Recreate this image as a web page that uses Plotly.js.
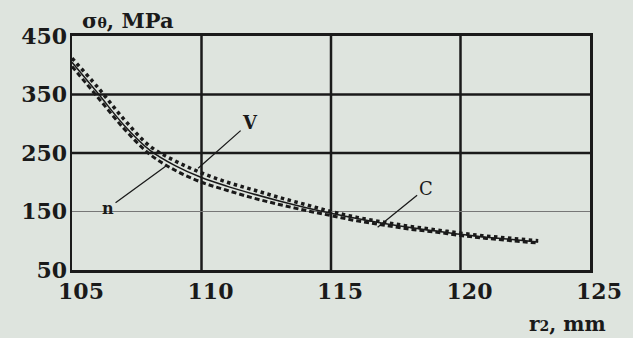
<!DOCTYPE html>
<html>
<head>
<meta charset="utf-8">
<script src="https://cdn.plot.ly/plotly-3.0.1.min.js"></script>
<style>html,body{margin:0;padding:0;background:#dee4de;}</style>
</head>
<body>
<div id="chart" style="width:633px;height:338px;"></div>
<script>
// Data
var r2 = [105,106,107,108,109,110,111,112,113,114,115,116,117,118,119,120,121,122,123];
var sigmaN = [405,352,298,255,228,208,193,180,168,157,147,138,130,123,117,111,106,102,98];
var sigmaV = [412,362,308,262,236,216,200,187,174,162,150,140,132,125,119,113,108,104,100];
var sigmaC = [398,345,292,248,220,200,186,173,162,152,143,134,127,120,115,109,104,100,96];

var xTicks = [105,110,115,120,125];
var yTicks = [50,150,250,350,450];
var xGrid = [110,115,120];
var yGridThick = [250,350];
var yGridThin = [150];

var serif = "DejaVu Serif, Liberation Serif, serif";

var traces = [
  {x: r2, y: sigmaV, mode: 'lines', name: 'V', line: {color: '#1a1a1a', width: 3.5, dash: 'dot', shape: 'spline'}},
  {x: r2, y: sigmaC, mode: 'lines', name: 'C', line: {color: '#1a1a1a', width: 3, dash: '5px,3px', shape: 'spline'}},
  {x: r2, y: sigmaN, mode: 'lines', name: 'n', line: {color: '#1a1a1a', width: 1.5, shape: 'spline'}}
];

var shapes = [];
xGrid.forEach(function(v){
  shapes.push({type:'line', xref:'x', yref:'paper', x0:v, x1:v, y0:0, y1:1, line:{color:'#1a1a1a', width:2.5}, layer:'below'});
});
yGridThick.forEach(function(v){
  shapes.push({type:'line', xref:'paper', yref:'y', x0:0, x1:1, y0:v, y1:v, line:{color:'#1a1a1a', width:2.5}, layer:'below'});
});
yGridThin.forEach(function(v){
  shapes.push({type:'line', xref:'paper', yref:'y', x0:0, x1:1, y0:v, y1:v, line:{color:'#777777', width:1}, layer:'below'});
});

var labelFont = {family: serif, size: 18, color: '#1a1a1a', weight: 'bold'};
var annotations = [
  {x: 109.87, y: 224, xref:'x', yref:'y', text:'V', showarrow:true, arrowhead:0, arrowwidth:1.3, arrowcolor:'#1a1a1a', ax:52, ay:-46, font: labelFont},
  {x: 108.67, y: 229, xref:'x', yref:'y', text:'n', showarrow:true, arrowhead:0, arrowwidth:1.3, arrowcolor:'#1a1a1a', ax:-59, ay:43, font: {family: serif, size: 16, color: '#1a1a1a', weight: 'bold'}},
  {x: 116.8, y: 123, xref:'x', yref:'y', text:'C', showarrow:true, arrowhead:0, arrowwidth:1.3, arrowcolor:'#1a1a1a', ax:48, ay:-39, font: {family: serif, size: 18, color: '#1a1a1a'}},
  {x: 0.015, y: 1.0, xref:'paper', yref:'paper', xanchor:'left', yanchor:'bottom', yshift:1, showarrow:false,
   text:'σ<span style="font-size:14px">θ</span>, MPa', font:{family: serif, size:21, color:'#1a1a1a', weight:'bold'}},
  {x: 0.9575, y: -0.231, xref:'paper', yref:'paper', xanchor:'center', yanchor:'middle', showarrow:false,
   text:'r<span style="font-size:14px">2</span>, mm', font:{family: serif, size:20, color:'#1a1a1a', weight:'bold'}}
];

var layout = {
  width: 633, height: 338,
  margin: {l:72, r:43, t:36, b:68, pad:0},
  paper_bgcolor: '#dee4de',
  plot_bgcolor: '#dee4de',
  showlegend: false,
  xaxis: {
    range: [105,125], tickvals: xTicks, ticktext: xTicks.map(String),
    showgrid: false, zeroline: false, showline: true, mirror: true, linecolor: '#1a1a1a', linewidth: 3,
    ticks: '', ticklabelshift: 9, ticklabelstandoff: 0,
    tickfont: {family: serif, size: 22, color: '#1a1a1a', weight: 'bold'}
  },
  yaxis: {
    range: [50,450], tickvals: yTicks, ticktext: yTicks.map(String),
    showgrid: false, zeroline: false, showline: true, mirror: true, linecolor: '#1a1a1a', linewidth: 2.5,
    ticks: '', ticklabelstandoff: -2,
    tickfont: {family: serif, size: 22, color: '#1a1a1a', weight: 'bold'}
  },
  shapes: shapes,
  annotations: annotations
};

Plotly.newPlot('chart', traces, layout, {displayModeBar: false, staticPlot: true});
</script>
</body>
</html>
